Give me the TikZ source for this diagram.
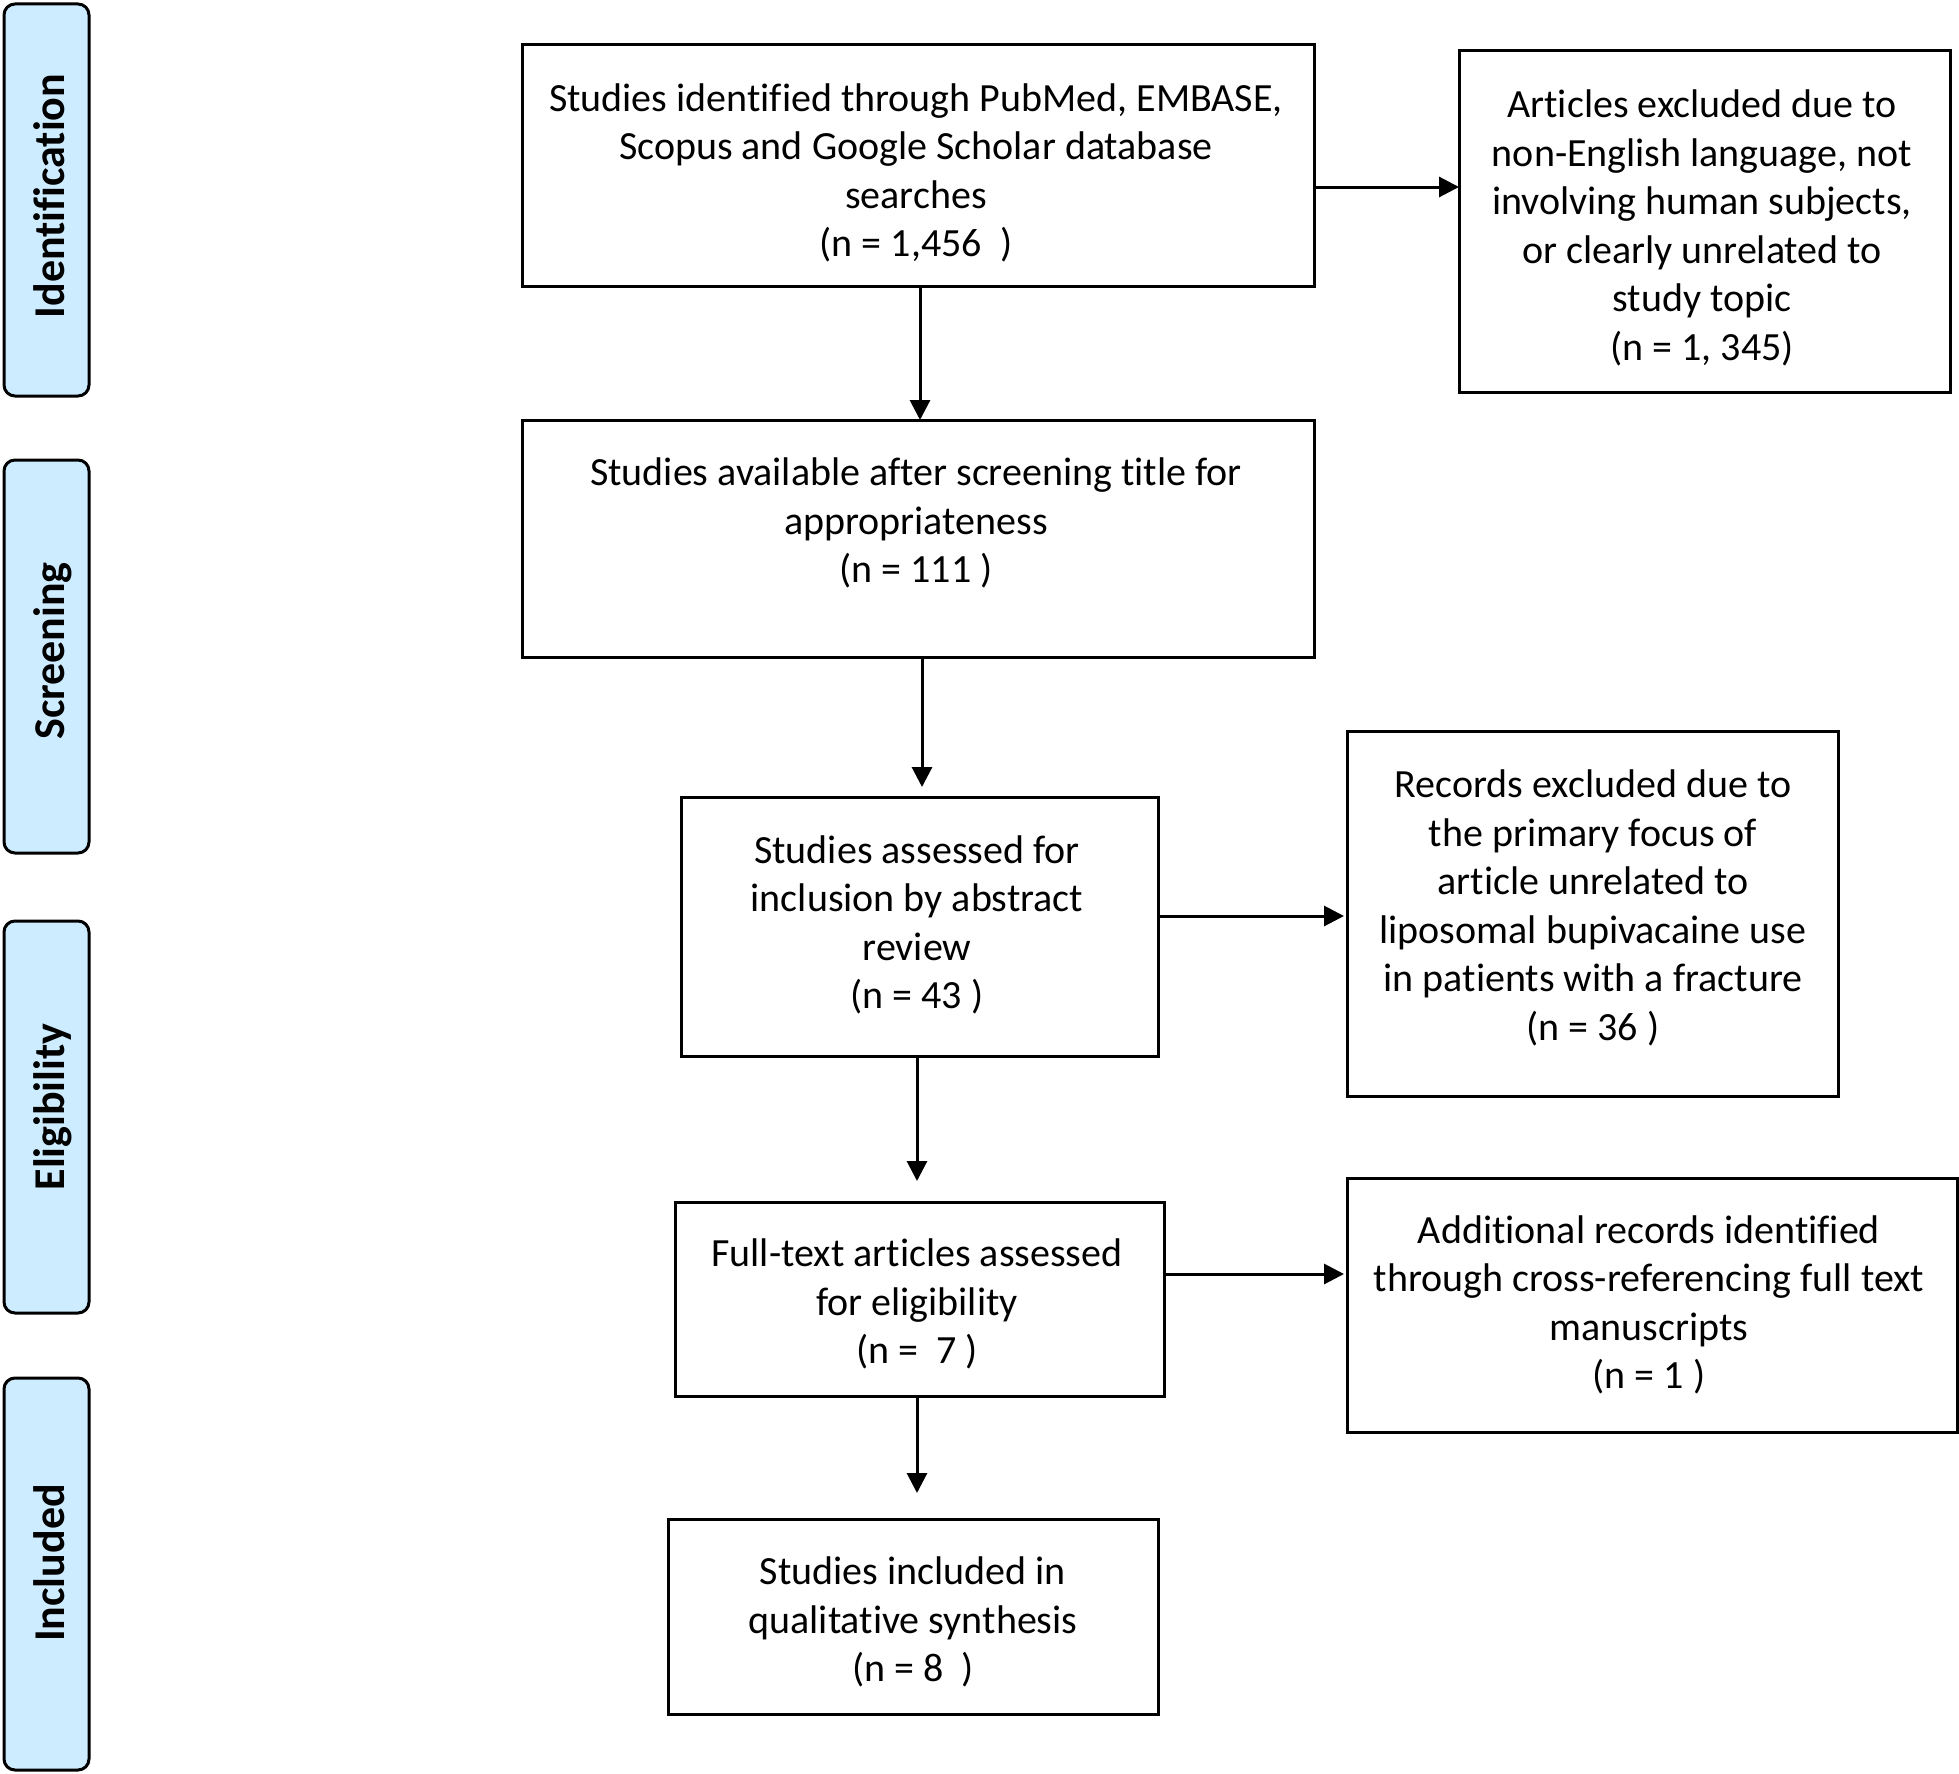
\documentclass[tikz,border=0pt]{standalone}
\usepackage{fontspec}
\setmainfont{Carlito}[Ligatures=NoCommon]
\usetikzlibrary{arrows.meta}
\definecolor{phasefill}{RGB}{206,236,255}
\tikzset{
  boxe/.style={draw=black, line width=3pt, fill=white, inner sep=0pt},
  txt/.style={align=center, inner sep=0pt, font=\fontsize{40}{48.5}\selectfont},
  phase/.style={draw=black, line width=3pt, fill=phasefill, rounded corners=11pt, inner sep=0pt},
  phtxt/.style={rotate=90, anchor=base, inner sep=0pt, font=\fontsize{44}{50}\selectfont\bfseries},
  arr/.style={line width=3pt, -{Triangle[width=20pt,length=20pt]}}
}
\begin{document}
\begin{tikzpicture}[x=1pt,y=-1pt]
\useasboundingbox (0,0) rectangle (1959,1774);
% phase boxes
\node[phase, minimum width=85pt, minimum height=392pt] (p1) at (46.5,200) {};
\node[phase, minimum width=85pt, minimum height=393pt] (p2) at (46.5,656.5) {};
\node[phase, minimum width=85pt, minimum height=392pt] (p3) at (46.5,1117) {};
\node[phase, minimum width=85pt, minimum height=392pt] (p4) at (46.5,1574) {};
\node[phtxt] (p1t) at (64,196) {Identification};
\node[phtxt] (p2t) at (64,651) {Screening};
\node[phtxt] (p3t) at (64,1107) {Eligibility};
\node[phtxt] (p4t) at (64,1563) {Included};
% boxes
\node[boxe, minimum width=792pt, minimum height=241pt] (b1) at (918,165.5) {};
\node[boxe, minimum width=491pt, minimum height=341pt] (e1) at (1704.5,221.5) {};
\node[boxe, minimum width=792pt, minimum height=237pt] (b2) at (918,538.5) {};
\node[boxe, minimum width=477pt, minimum height=259pt] (b3) at (919.5,926.5) {};
\node[boxe, minimum width=491pt, minimum height=365pt] (e2) at (1592.5,913.5) {};
\node[boxe, minimum width=489pt, minimum height=194pt] (b4) at (919.5,1299) {};
\node[boxe, minimum width=610pt, minimum height=254pt] (a1) at (1652,1305) {};
\node[boxe, minimum width=490pt, minimum height=195pt] (b5) at (913,1616.5) {};
% texts
\node[txt] (b1t) at (916,173) {Studies identified through PubMed, EMBASE,\\Scopus and Google Scholar database\\searches\\(n = 1,456\ \ )};
\node[txt] (e1t) at (1702,228) {Articles excluded due to\\non-English language, not\\involving human subjects,\\or clearly unrelated to\\study topic\\(n = 1, 345)};
\node[txt] (b2t) at (916,523) {Studies available after screening title for\\appropriateness\\(n = 111 )};
\node[txt] (b3t) at (917,925) {Studies assessed for\\inclusion by abstract\\review\\(n = 43 )};
\node[txt] (e2t) at (1593,908) {Records excluded due to\\the primary focus of\\article unrelated to\\liposomal bupivacaine use\\in patients with a fracture\\(n = 36 )};
\node[txt] (b4t) at (917,1304) {Full-text articles assessed\\for eligibility\\(n = \ 7 )};
\node[txt] (a1t) at (1649,1305) {Additional records identified\\through cross-referencing full text\\manuscripts\\(n = 1 )};
\node[txt] (b5t) at (913,1622) {Studies included in\\qualitative synthesis\\(n = 8\ \ )};
% arrows
\coordinate (c1) at (920,420);
\coordinate (c2) at (922,787);
\coordinate (c3) at (917,1181);
\coordinate (c4) at (917,1493);
\draw[arr] (b1.south -| c1) -- (c1);
\draw[arr] (b2.south -| c2) -- (c2);
\draw[arr] (b3.south -| c3) -- (c3);
\draw[arr] (b4.south -| c4) -- (c4);
\coordinate (d1) at (1459,187);
\coordinate (d2) at (1344,916);
\coordinate (d3) at (1344,1274);
\draw[arr] (b1.east |- d1) -- (d1);
\draw[arr] (b3.east |- d2) -- (d2);
\draw[arr] (b4.east |- d3) -- (d3);
\end{tikzpicture}
\end{document}
